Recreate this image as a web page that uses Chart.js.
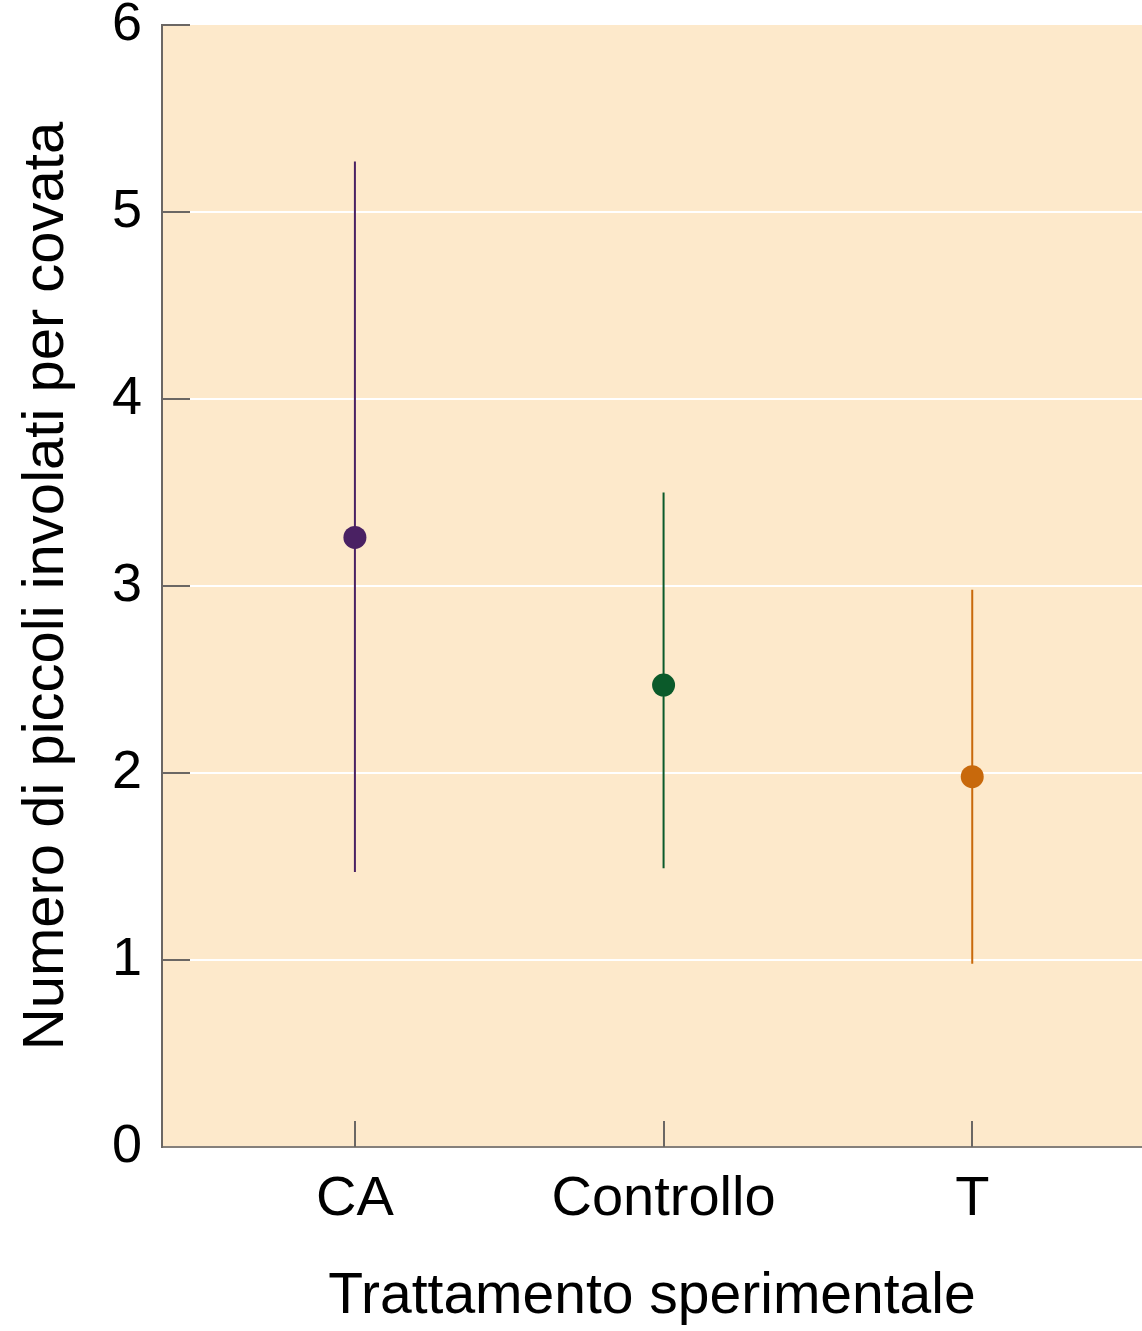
<!DOCTYPE html>
<html>
<head>
<meta charset="utf-8">
<script src="https://cdn.jsdelivr.net/npm/chart.js@4"></script>
<style>
  body { margin: 0; background: #ffffff; }
  canvas { display: block; }
</style>
</head>
<body>
<canvas id="chart" width="1142" height="1331"></canvas>
<script>
// treatment groups and their values (mean with min-max range)
const categories = ['CA', 'Controllo', 'T'];
const means = [3.26, 2.47, 1.98];
const lows = [1.47, 1.49, 0.98];
const highs = [5.27, 3.5, 2.98];
const yTicks = [0, 1, 2, 3, 4, 5, 6];
const colors = ['#4a2163', '#0b5a2a', '#c8690c'];

const plotBg = '#fde9cb';
const axisGray = '#6b6764';
const fontFamily = '"Liberation Sans", Arial, sans-serif';

// peach background of the plotting area
const plotBackground = {
    id: 'plotBackground',
    beforeDraw(chart) {
        const { ctx, chartArea } = chart;
        ctx.save();
        ctx.fillStyle = plotBg;
        ctx.fillRect(chartArea.left, chartArea.top, chartArea.right - chartArea.left, chartArea.bottom - chartArea.top);
        ctx.restore();
    }
};

// short tick marks pointing into the plot
const innerTicks = {
    id: 'innerTicks',
    beforeDatasetsDraw(chart) {
        const { ctx, chartArea, scales } = chart;
        ctx.save();
        ctx.strokeStyle = axisGray;
        ctx.lineWidth = 2;
        yTicks.forEach(v => {
            if (v === 0) return;
            const y = Math.round(scales.y.getPixelForValue(v));
            ctx.beginPath();
            ctx.moveTo(chartArea.left, y);
            ctx.lineTo(chartArea.left + 28, y);
            ctx.stroke();
        });
        categories.forEach((c, i) => {
            const x = Math.round(scales.x.getPixelForValue(i + 1));
            ctx.beginPath();
            ctx.moveTo(x, chartArea.bottom);
            ctx.lineTo(x, chartArea.bottom - 26);
            ctx.stroke();
        });
        ctx.restore();
    }
};

const rangeDatasets = categories.map((c, i) => ({
    label: c + ' range',
    data: [{ x: i + 1, y: lows[i] }, { x: i + 1, y: highs[i] }],
    showLine: true,
    borderColor: colors[i],
    borderWidth: 2,
    pointRadius: 0,
    order: 2
}));

const meanDataset = {
    label: 'Media',
    data: categories.map((c, i) => ({ x: i + 1, y: means[i] })),
    pointRadius: 11.5,
    pointBackgroundColor: colors,
    pointBorderWidth: 0,
    order: 1
};

new Chart(document.getElementById('chart'), {
    type: 'scatter',
    data: { datasets: [...rangeDatasets, meanDataset] },
    options: {
        responsive: false,
        animation: false,
        devicePixelRatio: 1,
        layout: { autoPadding: false, padding: { top: 25, right: 0, left: 0, bottom: 0 } },
        plugins: {
            legend: { display: false },
            tooltip: { enabled: false }
        },
        scales: {
            x: {
                type: 'linear',
                min: 0.375,
                max: 3.55,
                afterBuildTicks: scale => {
                    scale.ticks = categories.map((c, i) => ({ value: i + 1 }));
                },
                afterFit: scale => {
                    scale.height = 184;
                    scale.paddingLeft = 0;
                    scale.paddingRight = 0;
                },
                grid: { display: false, drawTicks: false },
                border: { color: '#85807b', width: 2 },
                ticks: {
                    padding: 19,
                    color: '#000000',
                    font: { family: fontFamily, size: 56 },
                    callback: v => categories[v - 1]
                },
                title: {
                    display: true,
                    text: 'Trattamento sperimentale',
                    color: '#000000',
                    padding: 0,
                    font: { family: fontFamily, size: 57 }
                }
            },
            y: {
                min: 0,
                max: 6,
                afterBuildTicks: scale => {
                    scale.ticks = yTicks.map(v => ({ value: v }));
                },
                afterFit: scale => {
                    scale.width = 162;
                    scale.paddingTop = 0;
                    scale.paddingBottom = 0;
                },
                grid: {
                    drawTicks: false,
                    lineWidth: 2,
                    color: ctx => (ctx.tick && (ctx.tick.value === 6 || ctx.tick.value === 0)) ? 'rgba(0,0,0,0)' : '#ffffff'
                },
                border: { color: axisGray, width: 2 },
                ticks: {
                    padding: 20,
                    color: '#000000',
                    font: { family: fontFamily, size: 54 }
                },
                title: {
                    display: true,
                    text: 'Numero di piccoli involati per covata',
                    color: '#000000',
                    padding: { top: 12, bottom: 0 },
                    font: { family: fontFamily, size: 58 }
                }
            }
        }
    },
    plugins: [plotBackground, innerTicks]
});
</script>
</body>
</html>
